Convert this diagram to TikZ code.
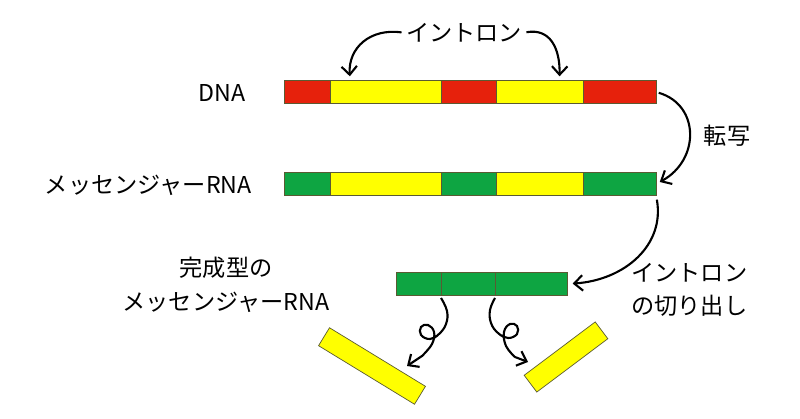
\documentclass[tikz,border=0pt]{standalone}
\usepackage{fontspec}
\setmainfont{Noto Sans CJK JP}
\usetikzlibrary{arrows.meta,positioning}
\definecolor{dnared}{RGB}{230,33,12}
\definecolor{rnagreen}{RGB}{14,165,66}
\definecolor{intronyellow}{RGB}{255,255,0}
\definecolor{segedge}{RGB}{90,90,50}

\begin{document}
\begin{tikzpicture}[x=0.025cm, y=-0.025cm,
    seg/.style={draw=segedge, line width=0.5pt, inner sep=0pt, outer sep=0pt,
                minimum height=0.575cm},
    exon/.style={seg, fill=#1},
    intron/.style={seg, fill=intronyellow},
    lbl/.style={font=\fontsize{16.5}{24}\selectfont, inner sep=0pt},
    arr/.style={-{Straight Barb[length=6pt, width=11pt]}, line width=1.5pt, black}
]
\useasboundingbox (0,0) rectangle (800,419);

% DNA
\node[exon=dnared, minimum width=1.15cm, anchor=west] (d1) at (284,92) {};
\node[intron, minimum width=2.775cm, right=0pt of d1] (d2) {};
\node[exon=dnared, minimum width=1.375cm, right=0pt of d2] (d3) {};
\node[intron, minimum width=2.175cm, right=0pt of d3] (d4) {};
\node[exon=dnared, minimum width=1.825cm, right=0pt of d4] (d5) {};

% messenger RNA
\node[exon=rnagreen, minimum width=1.15cm, anchor=west] (m1) at (284,184) {};
\node[intron, minimum width=2.775cm, right=0pt of m1] (m2) {};
\node[exon=rnagreen, minimum width=1.375cm, right=0pt of m2] (m3) {};
\node[intron, minimum width=2.175cm, right=0pt of m3] (m4) {};
\node[exon=rnagreen, minimum width=1.825cm, right=0pt of m4] (m5) {};

% mature mRNA
\node[exon=rnagreen, minimum width=1.125cm, anchor=west] (g1) at (396,284) {};
\node[exon=rnagreen, minimum width=1.36cm, right=0pt of g1] (g2) {};
\node[exon=rnagreen, minimum width=1.79cm, right=0pt of g2] (g3) {};

% cut-out introns
\node[intron, minimum width=2.81cm, minimum height=0.525cm, rotate=-31.4] (cut1) at (372,366) {};
\node[intron, minimum width=2.22cm, minimum height=0.525cm, rotate=36.9] (cut2) at (566,357) {};
\coordinate (tip1) at (407,366);
\coordinate (tip2) at (528,362);

% labels
\node[lbl] (intlbl) at (464,33) {イントロン};
\node[lbl, anchor=east] (dnalbl) at (246,93) {DNA};
\node[lbl, anchor=east] (rnalbl) at (252,185) {メッセンジャーRNA};
\node[lbl] (tenlbl) at (727,136) {転写};
\node[lbl, align=center] (maturelbl) at (226,285) {完成型の\\メッセンジャーRNA};
\node[lbl, align=left, anchor=west] (cutlbl) at (631,290) {イントロン\\の切り出し};

% arrows
\draw[arr, shorten <=3pt, shorten >=3pt] (intlbl.west) .. controls (370,28) and (348,48) .. (d2.162);
\draw[arr, shorten <=3pt, shorten >=3pt] (intlbl.east) .. controls (550,28) and (560,48) .. (d4.30);
\draw[arr, shorten <=2pt, shorten >=3pt] (d5.east) .. controls (700,105) and (700,160) .. (m5.east);
\draw[arr, shorten <=3pt, shorten >=4pt] (m5.south east) .. controls (665,245) and (625,280) .. (g3.east);
\draw[arr] plot[smooth, tension=0.7] coordinates {(441,298) (447,311) (446,324) (439,334) (430,339) (421,335) (421,327) (428,325) (434,332) (432,344) (422,356)} -- (tip1);
\draw[arr] plot[smooth, tension=0.7] coordinates {(495,298) (490,310) (491,323) (498,333) (508,338) (517,334) (517,326) (510,324) (504,332) (506,346) (515,357)} -- (tip2);
\end{tikzpicture}
\end{document}
